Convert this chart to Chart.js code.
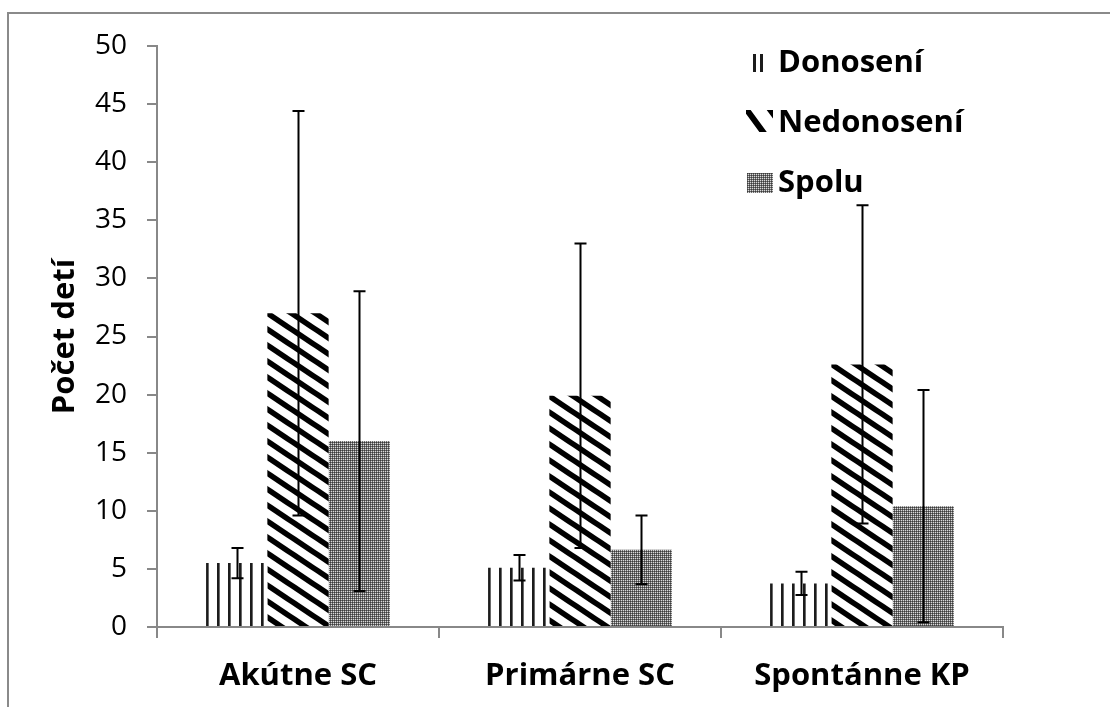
<!DOCTYPE html>
<html>
<head>
<meta charset="utf-8">
<script src="https://cdn.jsdelivr.net/npm/chart.js@4.4.1/dist/chart.umd.min.js"></script>
<style>
  html, body { margin: 0; padding: 0; background: #fff; }
  #wrap { width: 1110px; height: 707px; }
</style>
</head>
<body>
<div id="wrap"><canvas id="c" width="1110" height="707"></canvas></div>
<script>
// Categories and series (mean values with their deviations)
const categories = ['Akútne SC', 'Primárne SC', 'Spontánne KP'];
const seriesNames = ['Donosení', 'Nedonosení', 'Spolu'];
const donoseni = [5.5, 5.1, 3.75];
const donoseniErr = [1.3, 1.1, 1.0];
const nedonoseni = [27.0, 19.9, 22.6];
const nedonoseniErr = [17.4, 13.1, 13.7];
const spolu = [16.0, 6.65, 10.4];
const spoluErr = [12.9, 2.95, 10.0];
// Value axis
const yMin = 0, yMax = 50, yStep = 5;
const yTitle = 'Počet detí';

const FONT = '"Open Sans", "DejaVu Sans", sans-serif';

function makeTile(w, h, paint) {
  const c = document.createElement('canvas');
  c.width = w; c.height = h;
  paint(c.getContext('2d'), w, h);
  return c;
}
const ctx = document.getElementById('c').getContext('2d');

// Vertical hatching
const vTile = makeTile(11, 4, (g, w, h) => {
  g.fillStyle = '#fff'; g.fillRect(0, 0, w, h);
  g.fillStyle = '#1c1c1c'; g.fillRect(0, 0, 2, h);
  g.fillStyle = '#6a6a6a'; g.fillRect(2, 0, 1, h);
});
// Wide downward diagonal hatching
const dTile = makeTile(24, 16, (g, w, h) => {
  g.fillStyle = '#fff'; g.fillRect(0, 0, w, h);
  g.strokeStyle = '#000'; g.lineWidth = 5.6; g.lineCap = 'butt';
  for (let k = -1; k <= 1; k++) {
    g.beginPath();
    g.moveTo(-w, -h + k * h);
    g.lineTo(2 * w, 2 * h + k * h);
    g.stroke();
  }
});
// Fine gray dot grid
const gTile = makeTile(2, 2, (g) => {
  g.fillStyle = '#6c6c6c'; g.fillRect(0, 0, 2, 2);
  g.fillStyle = '#dadada'; g.fillRect(0, 0, 1, 1);
  g.fillStyle = '#3c3c3c'; g.fillRect(1, 1, 1, 1);
});

const tiles = [vTile, dTile, gTile];
// one pattern per bar so each can be anchored to its own bar
const patterns = tiles.map(t => categories.map(() => ctx.createPattern(t, 'repeat')));
const values = [donoseni, nedonoseni, spolu];
const errors = [donoseniErr, nedonoseniErr, spoluErr];

const anchorPatterns = {
  id: 'anchorPatterns',
  beforeDatasetsDraw(chart) {
    chart.data.datasets.forEach((ds, i) => {
      const meta = chart.getDatasetMeta(i);
      meta.data.forEach((bar, j) => {
        const left = Math.round(bar.x - bar.width / 2);
        patterns[i][j].setTransform(new DOMMatrix().translate(left, Math.round(bar.y)));
      });
    });
  }
};

const errorBars = {
  id: 'errorBars',
  afterDatasetsDraw(chart) {
    const g = chart.ctx;
    const y = chart.scales.y;
    g.save();
    g.strokeStyle = '#000';
    g.lineWidth = 2;
    chart.data.datasets.forEach((ds, i) => {
      const meta = chart.getDatasetMeta(i);
      meta.data.forEach((bar, j) => {
        const v = values[i][j], e = errors[i][j];
        const x = Math.round(bar.x) + 0.5;
        const yt = y.getPixelForValue(v + e);
        const yb = y.getPixelForValue(v - e);
        g.beginPath();
        g.moveTo(x, yt); g.lineTo(x, yb);
        g.moveTo(x - 6, yt); g.lineTo(x + 6, yt);
        g.moveTo(x - 6, yb); g.lineTo(x + 6, yb);
        g.stroke();
      });
    });
    g.restore();
  }
};

const frameAndLegend = {
  id: 'frameAndLegend',
  beforeDraw(chart) {
    const g = chart.ctx;
    g.save();
    g.fillStyle = '#fff';
    g.fillRect(0, 0, chart.width, chart.height);
    g.strokeStyle = '#8a8a8a';
    g.lineWidth = 2;
    g.strokeRect(8, 13, 1300, 900);
    g.restore();
  },
  afterDraw(chart) {
    const g = chart.ctx;
    g.save();
    // keys
    g.fillStyle = '#1c1c1c';
    g.fillRect(753, 54, 3, 18);
    g.fillRect(760, 54, 3, 18);

    g.save();
    g.beginPath(); g.rect(746, 110, 27, 22); g.clip();
    g.fillStyle = '#fff'; g.fillRect(746, 110, 27, 22);
    g.strokeStyle = '#000'; g.lineWidth = 6;
    g.beginPath();
    g.moveTo(744, 106); g.lineTo(766, 136);
    g.moveTo(766, 104); g.lineTo(780, 123);
    g.moveTo(735, 122); g.lineTo(748, 140);
    g.stroke();
    g.restore();

    const gp = g.createPattern(gTile, 'repeat');
    g.fillStyle = gp;
    g.fillRect(747, 173, 26, 20);

    g.fillStyle = '#000';
    g.font = 'bold 31px ' + FONT;
    g.textBaseline = 'alphabetic';
    g.textAlign = 'left';
    const baselines = [72, 132, 192];
    seriesNames.forEach((n, i) => g.fillText(n, 778, baselines[i]));
    g.restore();
  }
};

new Chart(ctx, {
  type: 'bar',
  data: {
    labels: categories,
    datasets: seriesNames.map((name, i) => ({
      label: name,
      data: values[i],
      backgroundColor: patterns[i],
      borderWidth: 0,
      categoryPercentage: 0.652,
      barPercentage: 1.0
    }))
  },
  options: {
    responsive: false,
    devicePixelRatio: 1,
    animation: false,
    events: [],
    layout: { padding: { top: 46, right: 107, left: 0, bottom: 0 } },
    plugins: {
      legend: { display: false },
      tooltip: { enabled: false }
    },
    scales: {
      x: {
        grid: {
          offset: true,
          drawOnChartArea: false,
          drawTicks: true,
          tickLength: 11,
          color: '#888888',
          lineWidth: 2
        },
        border: { color: '#888888', width: 2 },
        ticks: {
          color: '#000',
          padding: 20,
          font: { family: FONT, size: 31, weight: 'bold' }
        },
        afterFit(s) { s.height = 80; }
      },
      y: {
        min: yMin,
        max: yMax,
        grid: {
          drawOnChartArea: false,
          drawTicks: true,
          tickLength: 10,
          color: '#888888',
          lineWidth: 2
        },
        border: { color: '#888888', width: 2 },
        ticks: {
          stepSize: yStep,
          color: '#000',
          padding: 20,
          font: { family: FONT, size: 28 }
        },
        title: {
          display: true,
          text: yTitle,
          color: '#000',
          padding: { top: 47, bottom: 0 },
          font: { family: FONT, size: 31, weight: 'bold' }
        },
        afterFit(s) { s.width = 157; }
      }
    }
  },
  plugins: [anchorPatterns, errorBars, frameAndLegend]
});
</script>
</body>
</html>
